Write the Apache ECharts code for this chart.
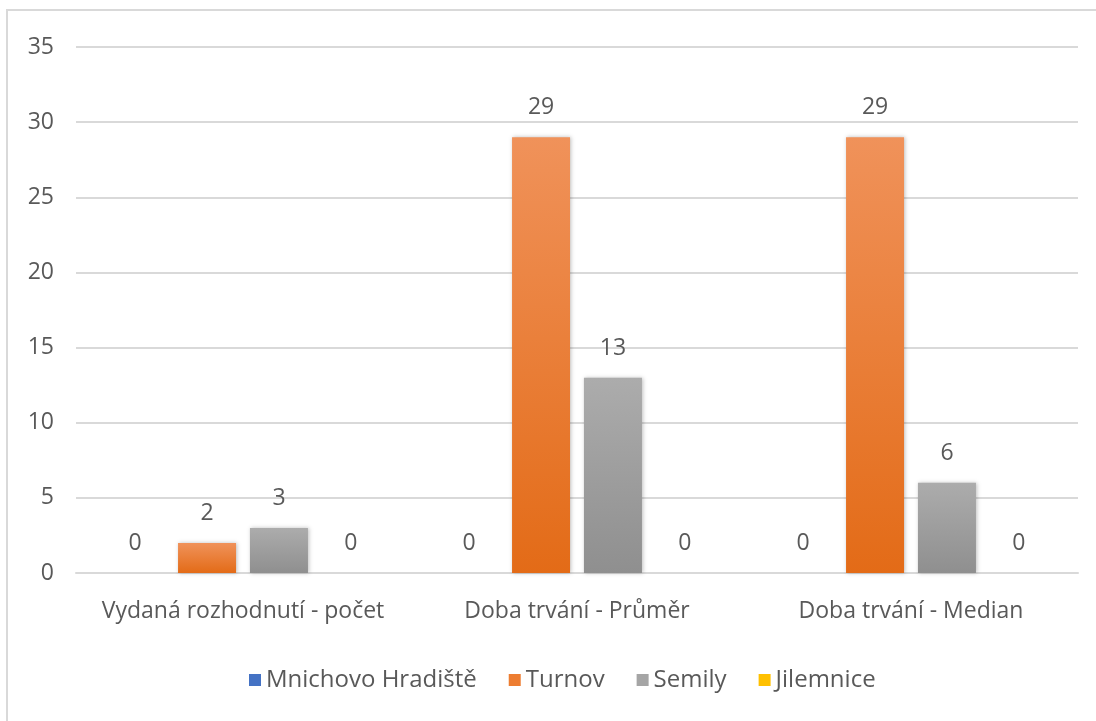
<!DOCTYPE html>
<html><head><meta charset="utf-8">
<script src="https://cdn.jsdelivr.net/npm/echarts@6/dist/echarts.min.js"></script>
<style>
html,body{margin:0;padding:0;background:#fff;}
#frame{position:absolute;left:6px;top:9px;width:1200px;height:800px;border:2px solid #d9d9d9;box-sizing:border-box;}
#c{position:absolute;left:0;top:0;width:1096px;height:721px;}
</style></head>
<body>
<div id="frame"></div>
<div id="c"></div>
<script>
const categories = ['Vydaná rozhodnutí - počet', 'Doba trvání - Průměr', 'Doba trvání - Median'];
const seriesNames = ['Mnichovo Hradiště', 'Turnov', 'Semily', 'Jilemnice'];
const mnichovo = [0, 0, 0];
const turnov = [2, 29, 29];
const semily = [3, 13, 6];
const jilemnice = [0, 0, 0];

const F = '"Open Sans", sans-serif';
const txt = '#595959';
function grad(top, bottom){
  return new echarts.graphic.LinearGradient(0,0,0,1,[{offset:0,color:top},{offset:1,color:bottom}]);
}
const styles = [
  {color: grad('#5b87d0','#3a67b8'), legend:'#4472C4'},
  {color: grad('#f0925a','#e36b17'), legend:'#ED7D31'},
  {color: grad('#acacac','#8f8f8f'), legend:'#A5A5A5'},
  {color: grad('#ffca33','#e8ad00'), legend:'#FFC000'}
];
const data = [mnichovo, turnov, semily, jilemnice];
const chart = echarts.init(document.getElementById('c'));
chart.setOption({
  animation:false,
  textStyle:{fontFamily:F},
  grid:{left:76,right:18,top:47,bottom:148},
  legend:{
    top:663, left:244, itemWidth:12, itemHeight:12, itemGap:32,
    textStyle:{fontFamily:F,fontSize:24,color:txt},
    icon:'rect',
    data: seriesNames.map((n,i)=>({name:n,itemStyle:{color:styles[i].legend}}))
  },
  xAxis:{
    type:'category', data:categories,
    axisLine:{lineStyle:{color:'#d9d9d9',width:2}},
    axisTick:{show:false},
    axisLabel:{fontFamily:F,fontSize:23,color:txt,margin:27,interval:0}
  },
  yAxis:{
    type:'value', min:0, max:35, interval:5,
    axisLine:{show:false}, axisTick:{show:false},
    axisLabel:{fontFamily:F,fontSize:23,color:txt,margin:22},
    splitLine:{lineStyle:{color:'#d9d9d9',width:2}}
  },
  series: seriesNames.map((n,i)=>({
    name:n, type:'bar', data:data[i], barWidth:58, barGap:'24%',
    itemStyle:{color:styles[i].color, shadowBlur:4, shadowColor:'rgba(0,0,0,0.25)', shadowOffsetX:1, shadowOffsetY:0},
    label:{show:true, position:'top', distance:18, fontFamily:F, fontSize:23, color:txt}
  }))
});
</script>
</body></html>
